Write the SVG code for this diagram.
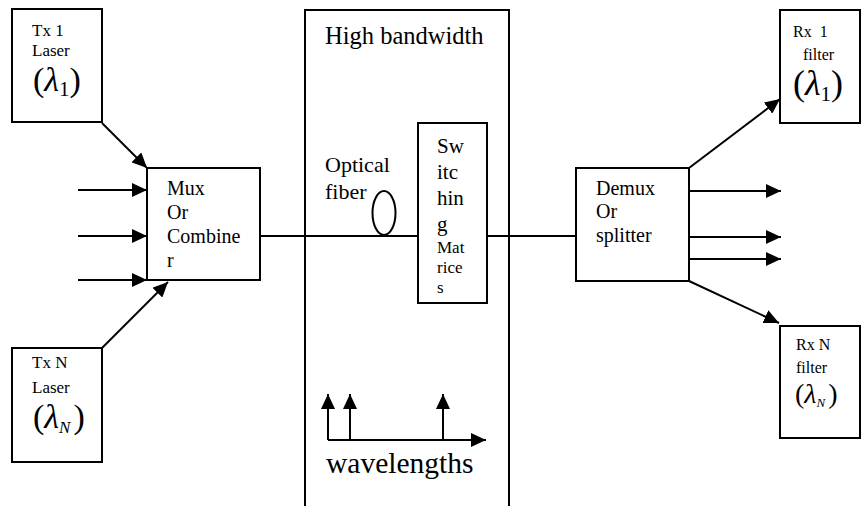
<svg xmlns="http://www.w3.org/2000/svg" width="861" height="506" viewBox="0 0 861 506" font-family="'Liberation Serif', 'DejaVu Serif', serif">
<defs>
<marker id="ah" markerUnits="userSpaceOnUse" markerWidth="16" markerHeight="14" refX="15" refY="7" orient="auto">
<path d="M0,0 L15,7 L0,14 Z" fill="#000"/>
</marker>
<style>
.box{fill:#fff;stroke:#000;stroke-width:2}
.ln{stroke:#000;stroke-width:2;fill:none}
.arr{stroke:#000;stroke-width:2;fill:none;marker-end:url(#ah)}
text{font-family:'Liberation Serif','DejaVu Serif',serif;fill:#000}
.t{font-size:17px}
.r{font-size:16px}
.m{font-size:20px}
.it{font-style:italic}
</style>
</defs>
<rect width="861" height="506" fill="#fff"/>

<g id="core">
<rect class="box" x="305" y="10" width="204" height="510"/>
<text x="325" y="44" font-size="24.5">High bandwidth</text>
<text x="325" y="172" font-size="22">Optical</text>
<text x="325" y="199" font-size="22">fiber</text>
</g>

<g id="connectors">
<line class="arr" x1="102" y1="123" x2="147" y2="168"/>
<line class="arr" x1="78" y1="190" x2="147" y2="190"/>
<line class="arr" x1="78" y1="236" x2="147" y2="236"/>
<line class="arr" x1="78" y1="280" x2="147" y2="280"/>
<line class="arr" x1="102" y1="348" x2="168" y2="282"/>
<line class="ln" x1="260" y1="236" x2="418" y2="236"/>
<line class="ln" x1="487" y1="236" x2="576" y2="236"/>
<line class="arr" x1="689" y1="168" x2="780" y2="99"/>
<line class="arr" x1="689" y1="191" x2="781" y2="191"/>
<line class="arr" x1="689" y1="237" x2="781" y2="237"/>
<line class="arr" x1="689" y1="259" x2="781" y2="259"/>
<line class="arr" x1="689" y1="281" x2="779" y2="323"/>
<line class="arr" x1="328" y1="440" x2="486" y2="440"/>
<line class="arr" x1="328" y1="440" x2="328" y2="394"/>
<line class="arr" x1="350" y1="440" x2="350" y2="394"/>
<line class="arr" x1="443" y1="440" x2="443" y2="394"/>
</g>

<g id="fiber">
<ellipse class="ln" cx="384" cy="213" rx="11.5" ry="22"/>
</g>

<g id="wavelengths">
<text x="326" y="473" font-size="29.5">wavelengths</text>
</g>

<g id="tx1">
<rect class="box" x="12" y="9" width="90" height="113"/>
<text class="t" x="32" y="36">Tx 1</text>
<text class="t" x="32" y="56">Laser</text>
<text x="33" y="91" font-size="34">(<tspan class="it">λ</tspan><tspan font-size="21" dy="5">1</tspan><tspan dy="-5" dx="0">)</tspan></text>
</g>

<g id="txN">
<rect class="box" x="12" y="348" width="90" height="114"/>
<text class="t" x="32" y="368">Tx N</text>
<text class="t" x="32" y="393">Laser</text>
<text x="33" y="428" font-size="34">(<tspan class="it">λ</tspan><tspan class="it" font-size="17" dy="5">N</tspan><tspan dy="-5" dx="3">)</tspan></text>
</g>

<g id="mux">
<rect class="box" x="147" y="168" width="113" height="112"/>
<text class="m" x="167" y="195">Mux</text>
<text class="m" x="167" y="219">Or</text>
<text class="m" x="167" y="243">Combine</text>
<text class="m" x="167" y="267">r</text>
</g>

<g id="switch">
<rect class="box" x="418" y="123" width="69" height="180"/>
<text x="437" y="153" font-size="21">Sw</text>
<text x="437" y="179" font-size="21">itc</text>
<text x="437" y="205" font-size="21">hin</text>
<text x="437" y="231" font-size="21">g</text>
<text x="437" y="253" font-size="17">Mat</text>
<text x="437" y="273" font-size="17">rice</text>
<text x="437" y="293" font-size="17">s</text>
</g>

<g id="demux">
<rect class="box" x="576" y="168" width="113" height="113"/>
<text class="m" x="596" y="195">Demux</text>
<text class="m" x="596" y="218">Or</text>
<text class="m" x="596" y="242">splitter</text>
</g>

<g id="rx1">
<rect class="box" x="780" y="10" width="80" height="113"/>
<text class="r" x="793" y="37" xml:space="preserve">Rx  1</text>
<text class="r" x="803" y="60">filter</text>
<text x="793" y="95" font-size="36">(<tspan class="it">λ</tspan><tspan font-size="21" dy="6">1</tspan><tspan dy="-6">)</tspan></text>
</g>

<g id="rxN">
<rect class="box" x="780" y="326" width="80" height="112"/>
<text class="r" x="796" y="350">Rx N</text>
<text class="r" x="796" y="373">filter</text>
<text x="795" y="403" font-size="28">(<tspan class="it">λ</tspan><tspan class="it" font-size="13" dy="4">N</tspan><tspan dy="-4" dx="3">)</tspan></text>
</g>
</svg>
